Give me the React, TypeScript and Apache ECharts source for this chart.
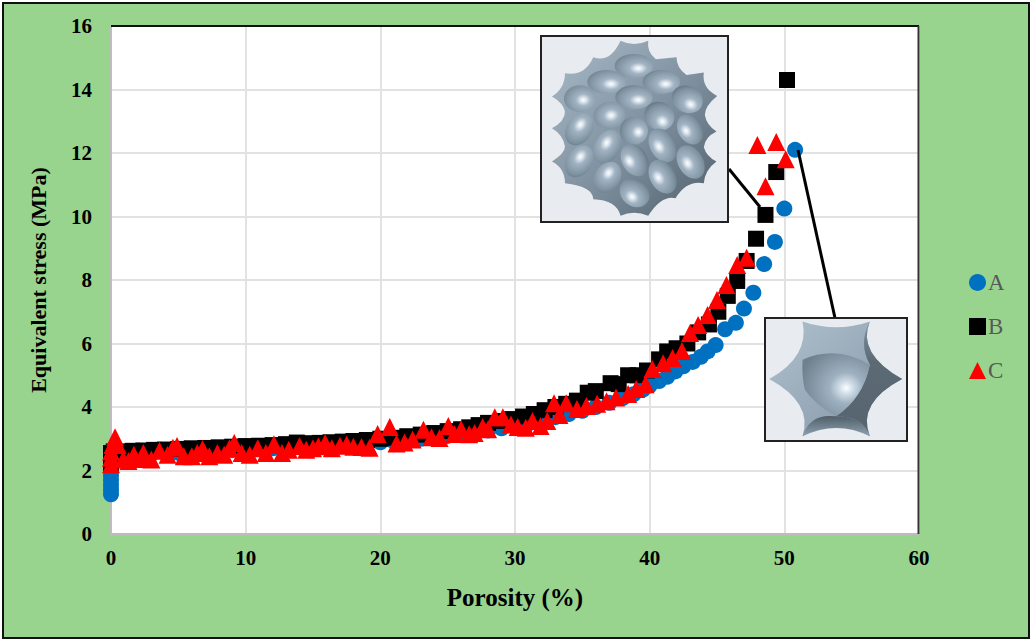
import { useEffect, useRef } from "react";
import * as echarts from "echarts";

const seriesNames = ["A", "B", "C"];
const yTicks = [0, 2, 4, 6, 8, 10, 12, 14, 16];

const porosityA = [
  0, 0, 0, 0, 0, 0, 0, 0, 0, 0.4, 1, 2, 3, 4, 5, 6, 7, 8, 9, 10, 11, 12, 13, 14, 15, 16, 17, 18, 19, 20, 21, 22,
  23, 24, 25, 26, 27, 28, 29, 30, 31, 32, 33, 34, 35, 36, 37, 38, 38.8, 39.5, 40, 40.7, 41.3, 41.9, 42.5, 43.2,
  43.8, 44.3, 44.9, 45.6, 46.4, 47, 47.7, 48.5, 49.3, 50, 50.8,
];
const stressA = [
  1.25, 1.4, 1.55, 1.7, 1.85, 2, 2.15, 2.3, 2.45, 2.5, 2.5, 2.52, 2.53, 2.55, 2.56, 2.58, 2.6, 2.62, 2.64, 2.66,
  2.68, 2.7, 2.72, 2.74, 2.76, 2.78, 2.8, 2.83, 2.86, 2.89, 2.92, 2.97, 3, 3.05, 3.09, 3.14, 3.2, 3.26, 3.33, 3.4,
  3.48, 3.57, 3.68, 3.78, 3.88, 4, 4.13, 4.28, 4.4, 4.55, 4.68, 4.82, 4.95, 5.12, 5.28, 5.42, 5.58, 5.75, 5.95,
  6.45, 6.65, 7.1, 7.6, 8.5, 9.2, 10.25, 12.1,
];

const porosityB = [
  0, 0, 0, 0.2, 0.8, 1.6, 2.4, 3.2, 4, 5, 6, 7, 8, 9, 10, 11, 12, 13, 13.8, 14.6, 15.5, 16.3, 17.2, 18, 19, 20, 21,
  22, 23, 24, 25, 26, 26.6, 27.3, 28, 29, 29.8, 30.6, 31.4, 32.2, 33, 33.8, 34.6, 35.4, 36, 37.1, 37.7, 38.4, 39.1,
  39.8, 40.7, 41.3, 42, 42.8, 43.6, 44.4, 45.1, 45.8, 46.5, 47.2, 47.9, 48.6, 49.4, 50.2,
];
const stressB = [
  2.2, 2.4, 2.55, 2.6, 2.6, 2.62, 2.63, 2.65, 2.66, 2.68, 2.7, 2.71, 2.73, 2.75, 2.77, 2.78, 2.8, 2.83, 2.88, 2.86,
  2.87, 2.89, 2.91, 2.93, 2.96, 3, 3.03, 3.08, 3.13, 3.18, 3.24, 3.3, 3.36, 3.43, 3.5, 3.56, 3.62, 3.7, 3.78, 3.9,
  4, 4.1, 4.2, 4.45, 4.5, 4.75, 4.72, 5, 5, 5.15, 5.5, 5.75, 5.85, 6, 6.35, 6.6, 7, 7.5, 7.97, 8.6, 9.3, 10.05,
  11.4, 14.3,
];

const porosityC = [
  0, 0, 0, 0.1, 0.3, 0.5, 0.9, 1.3, 1.7, 2.2, 2.4, 3, 3.6, 4.2, 4.6, 4.9, 5.4, 6, 6.4, 6.8, 7.3, 7.9, 8.4, 8.8, 9.15,
  9.7, 10.3, 10.9, 11.5, 12.1, 12.7, 13.2, 14, 14.5, 15, 15.4, 15.9, 16.4, 17, 17.5, 18, 18.6, 19.2, 19.8, 20.7,
  21.2, 21.8, 22.4, 23.2, 23.8, 24.4, 25.05, 25.5, 26, 26.6, 27, 27.6, 28, 28.5, 29.1, 29.7, 30.2, 30.8, 31.3, 31.9,
  32.4, 32.9, 33.3, 33.8, 34.6, 35.3, 36.1, 36.8, 37.5, 38.4, 39, 39.7, 40.2, 41, 41.7, 42.4, 43, 43.6, 44.3, 45,
  45.7, 46.5, 47.2, 48, 48.6, 49.4, 50.1,
];
const stressC = [
  2.2, 2.4, 2.6, 2.8, 3.05, 2.8, 2.35, 2.3, 2.5, 2.36, 2.55, 2.35, 2.62, 2.5, 2.72, 2.77, 2.45, 2.45, 2.55, 2.68,
  2.45, 2.55, 2.5, 2.7, 2.87, 2.55, 2.5, 2.7, 2.55, 2.83, 2.55, 2.65, 2.77, 2.65, 2.7, 2.76, 2.87, 2.7, 2.78, 2.82,
  2.75, 2.74, 2.72, 3.15, 3.37, 2.85, 2.88, 2.98, 3.28, 3.05, 3.02, 3.4, 3.15, 3.3, 3.14, 3.18, 3.37, 3.3, 3.68,
  3.68, 3.45, 3.37, 3.35, 3.56, 3.4, 3.56, 4.12, 3.75, 4.12, 3.94, 4.03, 4.1, 4.18, 4.3, 4.41, 4.57, 4.72, 5.2, 5.38,
  5.54, 5.76, 6.33, 6.58, 6.9, 7.37, 7.84, 8.47, 8.7, 12.25, 10.95, 12.35, 11.8,
];

// sphere pockets of the big inset: cx, cy, rx, ry, tilt in degrees (traced at 3x)
const bigPockets = [
  [312, 138, 58, 36, 0], [230, 186, 58, 36, 0], [394, 186, 56, 36, 0],
  [150, 236, 48, 40, 0], [312, 232, 56, 36, 0], [472, 238, 48, 40, -25],
  [238, 286, 48, 40, 10], [388, 288, 46, 42, -30], [148, 328, 52, 38, 55],
  [312, 332, 42, 42, 0], [480, 328, 48, 36, -60], [232, 380, 54, 38, 60],
  [398, 376, 54, 38, -60], [148, 424, 52, 38, 55], [314, 420, 52, 38, -60],
  [482, 426, 54, 38, -60], [232, 472, 50, 38, 55], [398, 470, 54, 38, -60],
  [314, 518, 48, 40, -40],
];
const bigLights = [
  [325, 145], [243, 192], [407, 192], [160, 240], [325, 240], [490, 240], [243, 288],
  [407, 288], [160, 336], [325, 336], [490, 336], [243, 384], [407, 384], [160, 432],
  [325, 432], [490, 432], [243, 480], [407, 480], [325, 528],
];

const bigOutline =
  "M272 62 Q312 82 355 62 Q350 95 378 118 L440 112 Q440 145 470 165 L522 158 Q515 205 562 228 " +
  "Q525 258 525 285 Q530 315 560 335 Q525 352 522 382 Q530 410 560 425 Q525 450 522 490 Q470 480 437 535 " +
  "Q395 525 355 588 Q312 570 272 588 Q260 540 190 538 Q190 500 105 490 Q105 445 66 425 Q105 400 105 380 " +
  "Q100 345 66 325 Q105 305 105 275 Q100 250 66 230 Q105 205 105 160 Q165 170 190 112 Q240 130 272 62 Z";
const smallOutline =
  "M308 755 Q410 790 510 755 Q470 850 607 928 Q470 1000 510 1100 Q410 1040 308 1100 Q340 1000 208 928 Q330 860 308 755 Z";
const smallDark = "M510 755 Q470 850 607 928 Q470 1000 510 1100 Q490 1040 408 1040 Q490 985 510 885 Q475 820 510 755 Z";
const smallBottom = "M308 1100 Q330 1030 408 1040 Q490 1040 510 1100 Q410 1050 308 1100 Z";
const smallBall = "M308 870 Q410 825 510 885 Q490 985 408 1040 Q340 1000 315 960 Q305 920 308 870 Z";

echarts.graphic.registerShape("bigOutline", echarts.graphic.extendPath(bigOutline, {}));
echarts.graphic.registerShape("smallOutline", echarts.graphic.extendPath(smallOutline, {}));
echarts.graphic.registerShape("smallDark", echarts.graphic.extendPath(smallDark, {}));
echarts.graphic.registerShape("smallBottom", echarts.graphic.extendPath(smallBottom, {}));
echarts.graphic.registerShape("smallBall", echarts.graphic.extendPath(smallBall, {}));

const serif = "'Liberation Serif', 'Times New Roman', serif";

const pairs = (xs: number[], ys: number[]) => xs.map((x, i) => [x, ys[i]]);

function shape(name: string, x: number, y: number, fill: any) {
  return { type: name, x, y, scaleX: 1 / 3, scaleY: 1 / 3, z: 21, silent: true, style: { fill } };
}

function insetGraphics() {
  const items: any[] = [
    // leader lines
    { type: "line", z: 20, shape: { x1: 729, y1: 169, x2: 760, y2: 207 }, style: { stroke: "#000", lineWidth: 3 } },
    { type: "line", z: 20, shape: { x1: 798, y1: 150, x2: 835, y2: 318 }, style: { stroke: "#000", lineWidth: 3 } },
    // plot frame, top and right
    { type: "line", z: 3, shape: { x1: 111, y1: 26, x2: 919, y2: 26 }, style: { stroke: "#111", lineWidth: 2 } },
    { type: "line", z: 3, shape: { x1: 918.5, y1: 26, x2: 918.5, y2: 534 }, style: { stroke: "#333", lineWidth: 2 } },
    // big inset
    { type: "rect", z: 20, shape: { x: 541, y: 36, width: 187, height: 186 }, style: { fill: "#E8EBEF", stroke: "#222", lineWidth: 2 } },
    shape("bigOutline", 530, 20, {
      type: "linear", x: 0, y: 0, x2: 1, y2: 1,
      colorStops: [
        { offset: 0, color: "#A9BAC8" },
        { offset: 0.55, color: "#7D8F9E" },
        { offset: 1, color: "#4F5E69" },
      ],
    }),
  ];
  bigPockets.forEach(([cx, cy, rx, ry, tilt], i) => {
    const [lx, ly] = bigLights[i];
    const cxPx = 530 + cx / 3;
    const cyPx = 20 + cy / 3;
    const a = (-tilt * Math.PI) / 180;
    const dx = (lx - cx) * Math.cos(a) - (ly - cy) * Math.sin(a);
    const dy = (lx - cx) * Math.sin(a) + (ly - cy) * Math.cos(a);
    items.push({
      type: "ellipse",
      z: 22,
      silent: true,
      x: cxPx,
      y: cyPx,
      rotation: (tilt * Math.PI) / 180,
      shape: { cx: 0, cy: 0, rx: rx / 3, ry: ry / 3 },
      style: {
        fill: {
          type: "radial",
          x: 0.5 + dx / (2 * rx),
          y: 0.5 + dy / (2 * ry),
          r: 0.75,
          colorStops: [
            { offset: 0, color: "#FFFFFF" },
            { offset: 0.12, color: "#DDE6EE" },
            { offset: 0.3, color: "#A2B4C3" },
            { offset: 0.75, color: "#7E919F" },
            { offset: 1, color: "#5F707D" },
          ],
        },
      },
    });
  });
  // small inset
  items.push(
    { type: "rect", z: 20, shape: { x: 765, y: 318, width: 142, height: 123 }, style: { fill: "#E8EBEF", stroke: "#222", lineWidth: 2 } },
    shape("smallOutline", 700, 70, {
      type: "linear", x: 0, y: 0, x2: 1, y2: 1,
      colorStops: [
        { offset: 0, color: "#AFBFCC" },
        { offset: 1, color: "#8397A8" },
      ],
    }),
    shape("smallDark", 700, 70, {
      type: "linear", x: 0, y: 0, x2: 0, y2: 1,
      colorStops: [
        { offset: 0, color: "#7F92A1" },
        { offset: 0.35, color: "#5B6A75" },
        { offset: 1, color: "#55646E" },
      ],
    }),
    shape("smallBottom", 700, 70, {
      type: "linear", x: 0, y: 0, x2: 0, y2: 1,
      colorStops: [
        { offset: 0, color: "#4F5E68" },
        { offset: 1, color: "#8FA2B1" },
      ],
    }),
    shape("smallBall", 700, 70, {
      type: "radial", x: 0.65, y: 0.55, r: 0.7,
      colorStops: [
        { offset: 0, color: "#FFFFFF" },
        { offset: 0.12, color: "#D6E2EC" },
        { offset: 0.35, color: "#9EB1C0" },
        { offset: 1, color: "#6F808E" },
      ],
    }),
  );
  return items;
}

export default function App() {
  const ref = useRef<HTMLDivElement>(null);

  useEffect(() => {
    if (!ref.current) return;
    const chart = echarts.init(ref.current, undefined, { renderer: "svg" });

    chart.setOption({
      animation: false,
      textStyle: { fontFamily: serif },
      grid: {
        left: 111,
        top: 26,
        width: 808,
        height: 508,
        show: true,
        backgroundColor: "#fff",
        borderWidth: 0,
      },
      legend: {
        orient: "vertical",
        left: 964,
        top: 266,
        itemWidth: 17,
        itemHeight: 17,
        itemGap: 21,
        textStyle: { fontFamily: serif, fontSize: 23, color: "#595959", padding: [0, 0, 0, -3] },
        data: [
          { name: seriesNames[0], icon: "circle" },
          { name: seriesNames[1], icon: "rect" },
          { name: seriesNames[2], icon: "triangle" },
        ],
      },
      xAxis: {
        type: "value",
        min: 0,
        max: 60,
        interval: 10,
        name: "Porosity (%)",
        nameLocation: "middle",
        nameGap: 51,
        nameTextStyle: { fontFamily: serif, fontWeight: "bold", fontSize: 25, color: "#000" },
        axisLine: { show: true, lineStyle: { color: "#BDBDBD", width: 2 } },
        axisTick: { show: false },
        axisLabel: { margin: 13, fontFamily: serif, fontWeight: "bold", fontSize: 21, color: "#000" },
        splitLine: { show: true, lineStyle: { color: "#E2E2E2", width: 2 } },
      },
      yAxis: {
        type: "value",
        min: yTicks[0],
        max: yTicks[yTicks.length - 1],
        interval: 2,
        name: "Equivalent stress (MPa)",
        nameLocation: "middle",
        nameGap: 62,
        nameTextStyle: { fontFamily: serif, fontWeight: "bold", fontSize: 22, color: "#000" },
        axisLine: { show: true, lineStyle: { color: "#BDBDBD", width: 2 } },
        axisTick: { show: false },
        axisLabel: { margin: 19, fontFamily: serif, fontWeight: "bold", fontSize: 21, color: "#000" },
        splitLine: { show: true, lineStyle: { color: "#E2E2E2", width: 2 } },
      },
      series: [
        {
          name: seriesNames[0],
          type: "scatter",
          symbol: "circle",
          symbolSize: 16,
          itemStyle: { color: "#0070C0", opacity: 1 },
          data: pairs(porosityA, stressA),
          z: 2,
        },
        {
          name: seriesNames[1],
          type: "scatter",
          symbol: "rect",
          symbolSize: 16,
          itemStyle: { color: "#000", opacity: 1 },
          data: pairs(porosityB, stressB),
          z: 3,
        },
        {
          name: seriesNames[2],
          type: "scatter",
          symbol: "triangle",
          symbolSize: 18,
          itemStyle: { color: "#FF0000", opacity: 1 },
          data: pairs(porosityC, stressC),
          z: 4,
        },
      ],
      graphic: insetGraphics(),
    });

    return () => chart.dispose();
  }, []);

  return (
    <div style={{ position: "fixed", left: 0, top: 0, width: 1031, height: 641, background: "#fff" }}>
      <div
        style={{
          position: "absolute",
          left: 2,
          top: 2,
          width: 1024,
          height: 633,
          background: "#98D48D",
          border: "2px solid #111",
        }}
      />
      <div ref={ref} style={{ position: "absolute", left: 0, top: 0, width: 1031, height: 641 }} />
    </div>
  );
}
